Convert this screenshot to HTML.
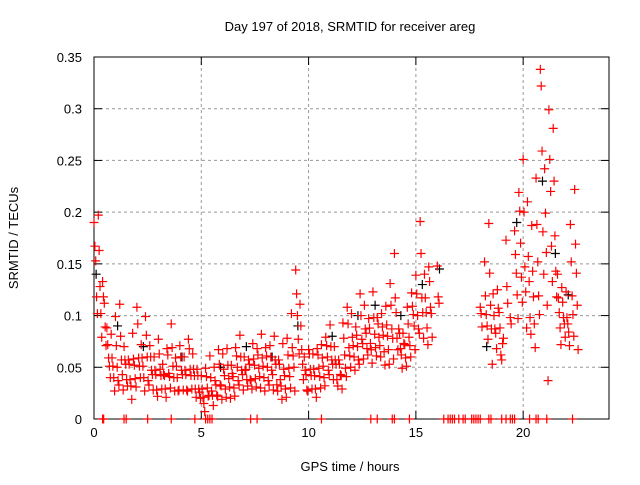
<!DOCTYPE html>
<html><head><meta charset="utf-8"><style>
body{margin:0;background:#fff}
svg text{font-family:"Liberation Sans",sans-serif;font-size:13px;fill:#000}
</style></head><body>
<svg id="chart" width="640" height="480" viewBox="0 0 640 480" xmlns="http://www.w3.org/2000/svg">
<rect width="640" height="480" fill="#fff"/>
<text x="350" y="31" text-anchor="middle">Day 197 of 2018, SRMTID for receiver areg</text>
<g id="grid"></g>
<g id="axes"></g>
<g id="marks"></g>
<text x="350" y="471" text-anchor="middle">GPS time / hours</text>
<text x="0" y="0" text-anchor="middle" transform="translate(18,238) rotate(-90)">SRMTID / TECUs</text>
</svg>
<script>
const binTimes=[0.0,0.2,0.4,0.6,0.8,1.0,1.2,1.4,1.6,1.8,2.0,2.2,2.4,2.6,2.8,3.0,3.2,3.4,3.6,3.8,4.0,4.2,4.4,4.6,4.8,5.0,5.2,5.4,5.6,5.8,6.0,6.2,6.4,6.6,6.8,7.0,7.2,7.4,7.6,7.8,8.0,8.2,8.4,8.6,8.8,9.0,9.2,9.4,9.6,9.8,10.0,10.2,10.4,10.6,10.8,11.0,11.2,11.4,11.6,11.8,12.0,12.2,12.4,12.6,12.8,13.0,13.2,13.4,13.6,13.8,14.0,14.2,14.4,14.6,14.8,15.0,15.2,15.4,15.6,16.0,18.0,18.2,18.4,18.6,18.8,19.0,19.2,19.4,19.6,19.8,20.0,20.2,20.4,20.6,20.8,21.0,21.2,21.4,21.6,21.8,22.0,22.2,22.4];
const binValues=[
[0.19,0.17,0.15,0.12,0.10],[0.20,0.16,0.13,0.10,0.08],[0.13,0.12,0.11,0.09,0.07],[0.09,0.07,0.06,0.05,0.04],[0.08,0.06,0.05,0.04,0.03],
[0.10,0.07,0.05,0.04,0.03],[0.11,0.08,0.06,0.04,0.03],[0.07,0.06,0.05,0.04,0.03],[0.06,0.05,0.04,0.03,0.02],[0.08,0.06,0.05,0.04,0.03],
[0.11,0.09,0.06,0.05,0.04],[0.07,0.06,0.05,0.04,0.03],[0.10,0.08,0.06,0.04,0.03],[0.07,0.06,0.05,0.04,0.03],[0.06,0.05,0.04,0.03,0.02],
[0.08,0.06,0.05,0.04,0.03],[0.05,0.045,0.04,0.03,0.02],[0.07,0.06,0.045,0.04,0.03],[0.09,0.07,0.05,0.04,0.03],[0.06,0.05,0.04,0.03,0.025],
[0.07,0.06,0.05,0.04,0.03],[0.06,0.05,0.04,0.03,0.025],[0.08,0.065,0.05,0.04,0.03],[0.06,0.05,0.04,0.03,0.02],[0.05,0.04,0.03,0.025,0.02],
[0.04,0.03,0.02,0.015,0.01],[0.05,0.04,0.03,0.025,0.02],[0.06,0.04,0.03,0.02,0.015],[0.05,0.04,0.03,0.025,0.02],[0.07,0.05,0.035,0.03,0.02],
[0.06,0.05,0.04,0.03,0.02],[0.07,0.05,0.04,0.03,0.02],[0.05,0.045,0.04,0.03,0.025],[0.07,0.06,0.05,0.04,0.03],[0.08,0.06,0.05,0.04,0.03],
[0.06,0.05,0.045,0.04,0.03],[0.06,0.05,0.04,0.035,0.03],[0.07,0.06,0.05,0.04,0.03],[0.07,0.06,0.05,0.04,0.03],[0.08,0.06,0.05,0.04,0.03],
[0.07,0.06,0.05,0.04,0.03],[0.07,0.06,0.05,0.04,0.03],[0.08,0.06,0.05,0.035,0.025],[0.06,0.05,0.04,0.03,0.02],[0.07,0.05,0.04,0.03,0.02],
[0.08,0.06,0.05,0.04,0.03],[0.10,0.07,0.06,0.05,0.03],[0.145,0.12,0.10,0.08,0.06],[0.11,0.09,0.07,0.05,0.04],[0.06,0.05,0.04,0.03,0.025],
[0.07,0.06,0.05,0.04,0.03],[0.06,0.05,0.04,0.03,0.02],[0.07,0.06,0.05,0.04,0.03],[0.07,0.06,0.05,0.04,0.035],[0.08,0.07,0.06,0.05,0.04],
[0.09,0.07,0.06,0.05,0.04],[0.07,0.06,0.05,0.04,0.03],[0.06,0.05,0.045,0.04,0.03],[0.09,0.08,0.06,0.05,0.04],[0.11,0.09,0.07,0.06,0.05],
[0.10,0.08,0.07,0.06,0.05],[0.09,0.08,0.07,0.06,0.05],[0.12,0.10,0.08,0.07,0.06],[0.11,0.09,0.08,0.07,0.06],[0.10,0.085,0.075,0.065,0.055],
[0.12,0.10,0.08,0.07,0.06],[0.10,0.09,0.08,0.07,0.06],[0.10,0.09,0.08,0.065,0.055],[0.11,0.09,0.08,0.07,0.05],[0.13,0.11,0.09,0.075,0.06],
[0.16,0.12,0.10,0.08,0.065],[0.09,0.08,0.07,0.06,0.05],[0.08,0.075,0.07,0.06,0.05],[0.11,0.09,0.08,0.07,0.06],[0.12,0.11,0.10,0.09,0.07],
[0.14,0.12,0.10,0.09,0.08],[0.19,0.16,0.12,0.10,0.08],[0.14,0.12,0.10,0.09,0.07],[0.15,0.13,0.11,0.10,0.08],[0.145,0.12,0.11],
[0.11,0.10,0.09],[0.15,0.12,0.10,0.09,0.08],[0.19,0.14,0.11,0.09,0.05],[0.12,0.10,0.09,0.08,0.07],[0.125,0.11,0.10,0.09,0.06],
[0.06,0.07,0.08],[0.17,0.13,0.11],[0.10,0.09],[0.18,0.16,0.14,0.12,0.10],[0.22,0.20,0.17,0.14,0.11],
[0.25,0.20,0.15,0.12,0.09],[0.21,0.16,0.13,0.10,0.08],[0.19,0.14,0.12,0.09,0.07],[0.23,0.19,0.15,0.12,0.10],[0.34,0.32,0.26,0.18,0.14],
[0.24,0.20,0.16,0.11,0.04],[0.30,0.25,0.22,0.17,0.13],[0.28,0.23,0.18,0.14,0.12],[0.14,0.12,0.10,0.09,0.07],[0.13,0.11,0.10,0.09,0.08],
[0.12,0.10,0.09,0.085,0.07],[0.19,0.15,0.12,0.10,0.08],[0.22,0.17,0.14,0.11,0.07]];
const zeroTimes=[0.4,0.45,1.4,1.5,2.5,3.6,4.7,5.2,5.3,5.4,5.5,7.3,7.6,10.6,12.9,13.2,13.9,14.0,14.7,16.3,16.5,16.6,16.7,16.8,17.0,17.2,17.3,17.6,17.7,17.8,17.9,18.0,18.4,18.5,19.0,19.2,19.4,19.5,19.6,20.3,20.6,20.7,21.1,22.3];
const blackTimes=[0.1,1.1,2.3,4.1,5.9,7.1,8.3,9.5,11.1,12.3,13.1,14.3,15.3,16.1,18.3,19.7,20.9,21.5,22.1];
const blackValues=[0.14,0.09,0.07,0.06,0.05,0.07,0.06,0.09,0.08,0.1,0.11,0.1,0.13,0.145,0.07,0.19,0.23,0.16,0.12];
const yTicks=[0,0.05,0.1,0.15,0.2,0.25,0.3,0.35];
const xTicks=[0,5,10,15,20];
const X0=94,X1=609,Y0=419,Y1=57;
const xs=t=>X0+t/24*(X1-X0);
const ys=v=>Y0-v/0.35*(Y0-Y1);
const jitterPx=[0,3,-3,2,-2,1,-1];
const NS='http://www.w3.org/2000/svg';
function mk(tag,attrs,parent){const e=document.createElementNS(NS,tag);for(const k in attrs)e.setAttribute(k,attrs[k]);parent.appendChild(e);return e;}
const grid=document.getElementById('grid'),axes=document.getElementById('axes'),marks=document.getElementById('marks');
yTicks.forEach(v=>{const y=ys(v);
 if(v>0&&v<0.35){const g=mk('line',{x1:X0,x2:X1,y1:y,y2:y,stroke:'#999','stroke-dasharray':'3,3'},grid);}
 const t=mk('line',{x1:X0,x2:X0+8,y1:y,y2:y,stroke:'#000'},axes);
 mk('line',{x1:X1,x2:X1-8,y1:y,y2:y,stroke:'#000'},axes);
 const l=mk('text',{x:X0-12,y:y+5,'text-anchor':'end'},axes);l.textContent=String(v);
 });
xTicks.forEach(v=>{const x=xs(v);
 if(v>0){const g=mk('line',{x1:x,x2:x,y1:Y0,y2:Y1,stroke:'#999','stroke-dasharray':'3,3'},grid);}
 const t=mk('line',{x1:x,x2:x,y1:Y0,y2:Y0-8,stroke:'#000'},axes);
 mk('line',{x1:x,x2:x,y1:Y1,y2:Y1+8,stroke:'#000'},axes);
 const l=mk('text',{x:x,y:Y0+18,'text-anchor':'middle'},axes);l.textContent=String(v);
 });
const fr=mk('rect',{x:X0,y:Y1,width:X1-X0,height:Y0-Y1,fill:'none',stroke:'#000'},axes);

function plus(t,v,color,name,dy){const x=xs(t),y=ys(v)+(dy||0);
 const p=mk('path',{d:`M${x-4.5} ${y}H${x+4.5}M${x} ${y-4.5}V${y+4.5}`,stroke:color,'stroke-width':1.2,fill:'none'},marks);
 }
blackTimes.forEach((t,i)=>plus(t,blackValues[i],'#000','black-point',0));
binTimes.forEach((t,i)=>{binValues[i].forEach((v,k)=>plus(t+k*0.04,v,'#f00','srmtid-point',jitterPx[(i+k)%jitterPx.length]));});
zeroTimes.forEach(t=>plus(t,0,'#f00','zero-point',0));
</script>
</body></html>
